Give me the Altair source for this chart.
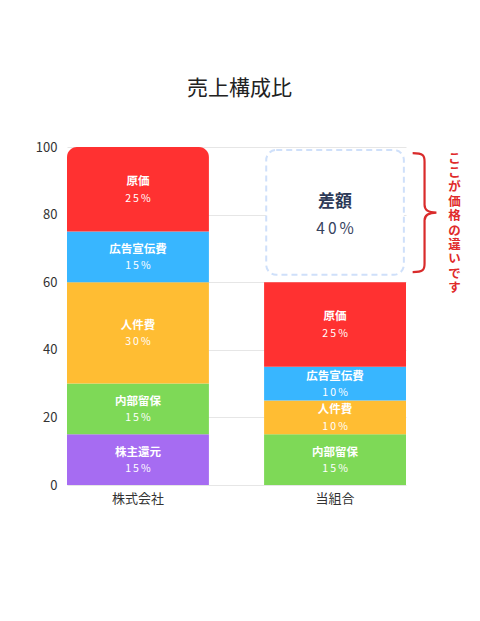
import altair as alt
import pandas as pd

# ---- data ----
companies = ["株式会社", "当組合"]
left_items = ["株主還元", "内部留保", "人件費", "広告宣伝費", "原価"]
left_values = [15, 15, 30, 15, 25]
right_items = ["内部留保", "人件費", "広告宣伝費", "原価"]
right_values = [15, 10, 10, 25]
gap_label = "差額"
gap_value = 40
title_text = "売上構成比"
note_text = "ここが価格の違いです"
y_ticks = [0, 20, 40, 60, 80, 100]

item_order = ["原価", "広告宣伝費", "人件費", "内部留保", "株主還元"]
item_colors = ["#ff3131", "#38b6ff", "#ffbd33", "#7ed957", "#a66cf2"]

FONT = "Noto Sans CJK JP"


def spaced(s):
    return "\u2009".join(list(s))


rows = []
for comp, items, vals in [(companies[0], left_items, left_values),
                          (companies[1], right_items, right_values)]:
    base = 0
    for i, (it, v) in enumerate(zip(items, vals)):
        rows.append(dict(company=comp, item=it, value=v, y0=base, y1=base + v,
                         mid=base + v / 2, pct=spaced(f"{v}%"),
                         top=(comp == companies[0] and i == len(items) - 1)))
        base += v
df = pd.DataFrame(rows)

gap_low = sum(right_values)
gap_high = gap_low + gap_value
gap_mid = (gap_low + gap_high) / 2

x_enc = alt.X("company:N", scale=alt.Scale(domain=companies, paddingInner=0.28, paddingOuter=0),
              axis=alt.Axis(title=None, labelAngle=0, domain=False, ticks=False,
                            labelFontSize=13, labelColor="#333", labelPadding=7, labelFont=FONT,
                            grid=False))
y_scale = alt.Scale(domain=[0, 100], nice=False)
color_enc = alt.Color("item:N", scale=alt.Scale(domain=item_order, range=item_colors), legend=None)

base = alt.Chart(df)

bars = base.transform_filter("!datum.top").mark_bar().encode(
    x=x_enc,
    y=alt.Y("y0:Q", scale=y_scale,
            axis=alt.Axis(title=None, domain=False, ticks=False, values=y_ticks,
                          labelFontSize=13, labelColor="#333", labelPadding=10, labelFont=FONT,
                          gridColor="#e6e6e6", gridWidth=1)),
    y2="y1:Q",
    color=color_enc,
)
top_bar = base.transform_filter("datum.top").mark_bar(
    cornerRadiusTopLeft=10, cornerRadiusTopRight=10).encode(
    x="company:N", y="y0:Q", y2="y1:Q", color=color_enc)

name_text = base.mark_text(color="white", fontSize=11.5, fontWeight="bold", font=FONT, dy=-7).encode(
    x="company:N", y="mid:Q", text="item:N")
pct_text = base.mark_text(color="white", fontSize=10.5, font=FONT, dy=9.5).encode(
    x="company:N", y="mid:Q", text="pct:N")

one = alt.Data(values=[{"k": 0}])

gap_box = alt.Chart(one).mark_bar(
    width=alt.RelativeBandSize(0.97), fill="white", stroke="#cfe0fa", strokeWidth=2,
    strokeDash=[6, 4], cornerRadius=10).encode(
    x=alt.datum(companies[1]), y=alt.datum(gap_low + 2.2), y2=alt.datum(gap_high - 0.9))

gap_name = alt.Chart(one).mark_text(fontSize=17, fontWeight="bold", color="#2d3a58", font=FONT,
                                    dy=-12.5).encode(
    x=alt.datum(companies[1]), y=alt.datum(gap_mid), text=alt.value(gap_label))
gap_pct = alt.Chart(one).mark_text(fontSize=15.5, color="#36425e", font=FONT, dy=14.5).encode(
    x=alt.datum(companies[1]), y=alt.datum(gap_mid), text=alt.value(spaced(f"{gap_value}%")))

brace_path = ("M -0.2 -1 C -0.02 -1 0 -0.96 0 -0.86 L 0 -0.13 C 0 -0.04 0.06 0 0.2 0 "
              "C 0.06 0 0 0.04 0 0.13 L 0 0.86 C 0 0.96 -0.02 1 -0.2 1")
brace = alt.Chart(one).mark_point(shape=brace_path, filled=False, stroke="#d92b2b", strokeWidth=2.2,
                                  opacity=1, size=119 * 119, xOffset=89.5, yOffset=-2).encode(
    x=alt.datum(companies[1]), y=alt.datum(gap_mid))

note = alt.Chart(one).mark_text(fontSize=12.5, fontWeight="bold", color="#e02a2a", font=FONT,
                                lineBreak="\n", lineHeight=14.4, dx=119.5, dy=-62,
                                baseline="top").encode(
    x=alt.datum(companies[1]), y=alt.datum(gap_mid), text=alt.value("\n".join(list(note_text))))

chart = alt.layer(bars, top_bar, name_text, pct_text, gap_box, gap_name, gap_pct, brace, note).properties(
    width=339, height=338,
    autosize=alt.AutoSizeParams(type="none"),
    padding={"left": 59, "top": 139, "right": 66, "bottom": 120},
    title=alt.TitleParams(title_text, fontSize=21, font=FONT, fontWeight="normal", color="#222",
                          offset=42, anchor="middle", dx=3),
).configure_view(stroke=None)

chart.save("out.html", embed_options={"renderer": "svg", "actions": False})
